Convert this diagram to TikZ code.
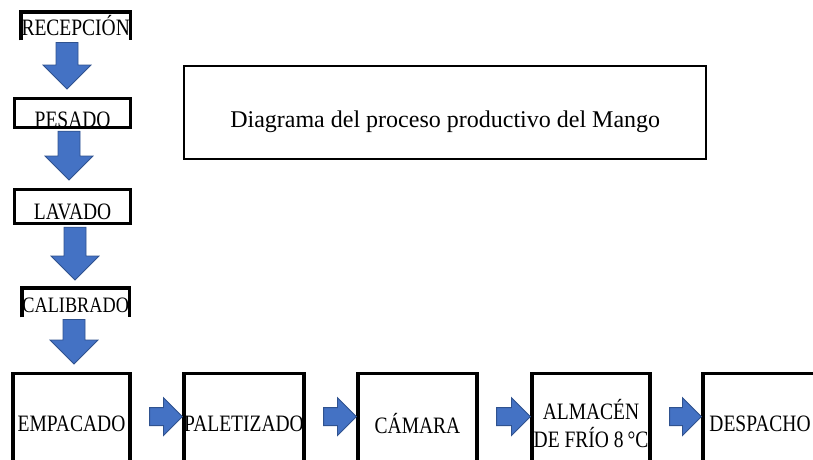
\documentclass[tikz,border=0pt]{standalone}
\usepackage{fontspec}
\setmainfont{Liberation Serif}
\newfontfamily\lblfont[FakeStretch=0.83]{Liberation Serif}
\usetikzlibrary{calc}
\definecolor{arrfill}{RGB}{68,114,196}
\definecolor{arrline}{RGB}{47,82,143}

% fat arrow going down from #1 to #2, at x = #3
\newcommand\downblk[3]{%
  \path[blk] let \p1 = (#1.south), \p2 = (#2.north) in
    (#3pt-11pt,\y1-2pt) -- (#3pt+11pt,\y1-2pt) -- (#3pt+11pt,\y2+32pt)
    -- (#3pt+24pt,\y2+32pt) -- (#3pt,\y2+8pt) -- (#3pt-24pt,\y2+32pt)
    -- (#3pt-11pt,\y2+32pt) -- cycle;}
% fat arrow going right from #1 to #2
\newcommand\rightblk[2]{%
  \path[blk] let \p1 = (#1.east), \p2 = (#2.west) in
    (\x1+18pt,\y2+16pt) -- (\x2-19pt,\y2+16pt) -- (\x2-19pt,\y2+26pt)
    -- (\x2,\y2+7pt) -- (\x2-19pt,\y2-12pt) -- (\x2-19pt,\y2-2pt)
    -- (\x1+18pt,\y2-2pt) -- cycle;}

\begin{document}
\begin{tikzpicture}[x=1pt,y=-1pt,
    lbl/.style={inner sep=0pt, font=\lblfont\fontsize{23.5}{28}\selectfont},
    box/.style={lbl, draw, line width=3.2pt},
    stage/.style={box, anchor=north, minimum height=100pt, align=center},
    blk/.style={fill=arrfill, draw=arrline, line width=0.8pt}]
  \clip (0,0) rectangle (813,459);

  % column of stages
  \node[lbl, anchor=north west, minimum width=109pt, text height=23pt, text depth=5pt] (rec) at (21,12) {RECEPCIÓN};
  \draw[line width=3.2pt] (rec.south west) |- (rec.north east) -- (rec.south east);
  \node[box, anchor=north west, minimum width=116pt, text height=29pt, text depth=0pt] (pes) at (13,97) {PESADO};
  \node[box, anchor=north west, minimum width=116pt, text height=30pt, text depth=4pt] (lav) at (13,188) {LAVADO};
  \node[lbl, anchor=north west, minimum width=107pt, text height=24pt, text depth=5pt,
        font=\lblfont\fontsize{22}{26}\selectfont] (cal) at (22,288) {CALIBRADO};
  \draw[line width=3.2pt] (cal.south west) |- (cal.north east) -- (cal.south east);

  % bottom row
  \node[stage, minimum width=117pt] (emp) at (71.5,372) {EMPACADO};
  \node[stage, minimum width=120pt] (pal) at (244,372) {PALETIZADO};
  \node[stage, minimum width=119pt] (cam) at (417.5,372) {CÁMARA};
  \node[stage, minimum width=118pt] (alm) at (591,372) {ALMACÉN\\DE FRÍO 8\,°C};
  \node[stage, minimum width=114pt] (des) at (760,372) {DESPACHO};

  % title
  \node[draw, line width=2.4pt, inner sep=0pt, anchor=north west, minimum width=522pt,
        text height=61pt, text depth=32pt, font=\fontsize{24}{28}\selectfont] (title) at (183,65)
        {Diagrama del proceso productivo del Mango};

  \downblk{rec}{pes}{67}
  \downblk{pes}{lav}{69}
  \downblk{lav}{cal}{75}
  \downblk{cal}{emp}{74}
  \rightblk{emp}{pal}
  \rightblk{pal}{cam}
  \rightblk{cam}{alm}
  \rightblk{alm}{des}
\end{tikzpicture}
\end{document}
